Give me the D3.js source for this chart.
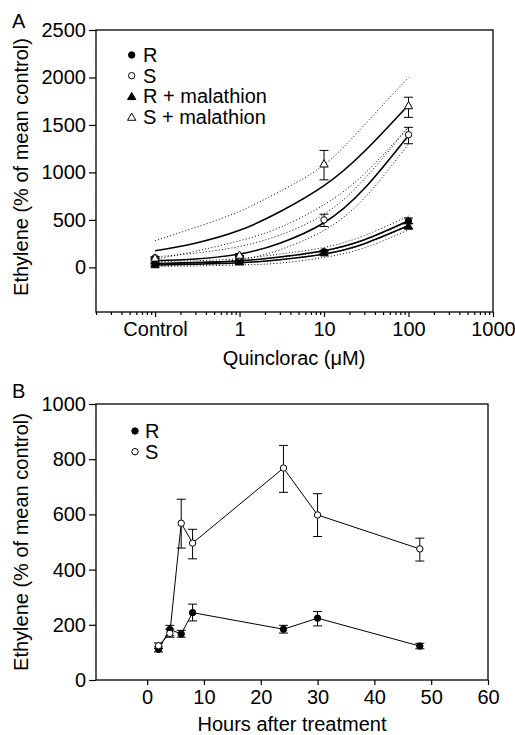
<!DOCTYPE html>
<html>
<head>
<meta charset="utf-8">
<script src="https://cdn.jsdelivr.net/npm/d3@7"></script>
<style>
  body { margin: 0; background: #fff; }
  svg { display: block; font-family: "Liberation Sans", Arial, Helvetica, sans-serif; }
</style>
</head>
<body>
<div id="chart"></div>
<script>
// ---- panel A data (quinclorac dose, "Control" plotted at 0.1) ----
const doseA = [0.1, 1, 10, 100]
const doseLabels = ['Control', '1', '10', '100', '1000']
const doseTicks = [0.1, 1, 10, 100, 1000]
const yTicksA = [0, 500, 1000, 1500, 2000, 2500]

const rMean = [45, 75, 165, 489]
const rHi = [55, 85, 180, 520]
const rLo = [35, 65, 150, 460]
const sMean = [100, 112, 500, 1397]
const sHi = [110, 125, 560, 1475]
const sLo = [90, 100, 430, 1302]
const rmMean = [30, 60, 155, 436]
const rmHi = [40, 70, 170, 460]
const rmLo = [20, 50, 140, 410]
const smMean = [100, 130, 1091, 1704]
const smHi = [110, 145, 1232, 1792]
const smLo = [90, 115, 922, 1580]

// fitted curves and their bands, read at these doses
const fitDose = [0.1, 0.3, 1, 3, 10, 30, 100]
const rFit = [40, 50, 68, 110, 175, 290, 490]
const rFitHi = [60, 70, 92, 140, 210, 335, 540]
const rFitLo = [20, 30, 45, 80, 140, 245, 440]
const rmFit = [25, 33, 48, 80, 140, 250, 440]
const rmFitHi = [40, 50, 67, 105, 170, 290, 480]
const rmFitLo = [10, 15, 25, 45, 105, 205, 395]
const sFit = [70, 88, 140, 255, 470, 830, 1390]
const sFitHi = [110, 150, 220, 340, 560, 930, 1480]
const sFitLo = [30, 45, 80, 185, 390, 730, 1300]
const smFit = [175, 255, 390, 585, 860, 1220, 1710]
const smFitHi = [280, 420, 590, 800, 1080, 1500, 2000]
const smFitLo = [84, 170, 280, 420, 660, 985, 1480]

// ---- panel B data ----
const hours = [2, 4, 6, 8, 24, 30, 48]
const rB = [111, 183, 167, 244, 184, 224, 123]
const rBHi = [120, 198, 180, 275, 198, 248, 133]
const rBLo = [102, 160, 155, 214, 170, 196, 113]
const sB = [124, 169, 568, 496, 768, 598, 475]
const sBHi = [134, 185, 655, 546, 850, 675, 514]
const sBLo = [114, 155, 478, 439, 680, 520, 431]
const xTicksB = [0, 10, 20, 30, 40, 50, 60]
const yTicksB = [0, 200, 400, 600, 800, 1000]

const svg = d3.select('#chart')
    .append('svg')
    .attr('width', 515)
    .attr('height', 735)

const tickFont = '20px'
const titleFont = '20px'

// draws a series: error bars, then markers
const drawPoints = (g, x, y, xs, mean, hi, lo, kind, cap) => {
    const pts = xs.map((d, i) => ({ x: d, m: mean[i], hi: hi[i], lo: lo[i] }))
    const bars = g.append('g').attr('stroke', '#000').attr('stroke-width', 1)
    pts.forEach(p => {
        const cx = x(p.x)
        bars.append('line').attr('x1', cx).attr('x2', cx).attr('y1', y(p.hi)).attr('y2', y(p.lo))
        bars.append('line').attr('x1', cx - cap).attr('x2', cx + cap).attr('y1', y(p.hi)).attr('y2', y(p.hi))
        bars.append('line').attr('x1', cx - cap).attr('x2', cx + cap).attr('y1', y(p.lo)).attr('y2', y(p.lo))
    })
    drawMarkers(g, pts.map(p => [x(p.x), y(p.m)]), kind)
}

const drawMarkers = (g, coords, kind) => {
    const filled = kind === 'R' || kind === 'Rm'
    if (kind === 'R' || kind === 'S') {
        g.selectAll(null)
            .data(coords)
            .enter()
            .append('circle')
            .attr('cx', d => d[0])
            .attr('cy', d => d[1])
            .attr('r', 3.2)
            .attr('fill', filled ? '#000' : '#fff')
            .attr('stroke', '#000')
            .attr('stroke-width', 1)
    } else {
        g.selectAll(null)
            .data(coords)
            .enter()
            .append('path')
            .attr('d', d3.symbol(d3.symbolTriangle, 30))
            .attr('transform', d => `translate(${d[0]},${d[1] + 0.8})`)
            .attr('fill', filled ? '#000' : '#fff')
            .attr('stroke', '#000')
            .attr('stroke-width', 1)
    }
}

const styleAxis = g => {
    g.select('.domain').remove()
    g.selectAll('line').attr('stroke', '#000').attr('stroke-width', 1.2)
    g.selectAll('text').attr('fill', '#000').attr('font-size', tickFont)
        .attr('font-family', '"Liberation Sans", Arial, Helvetica, sans-serif')
}

// ================= panel A =================
const A = { left: 96, top: 30, right: 493, bottom: 312 }

const xA = d3.scaleLog()
    .domain([0.02, 1000])
    .range([A.left, A.right])

const yA = d3.scaleLinear()
    .domain([-470, 2500])
    .range([A.bottom, A.top])

const gA = svg.append('g')

// minor ticks on the log axis
const minorA = []
for (let e = -2; e <= 2; e++) {
    for (let k = 2; k <= 9; k++) {
        const v = k * Math.pow(10, e)
        if (v >= 0.02 && v <= 1000) minorA.push(v)
    }
}
gA.append('g')
    .attr('transform', `translate(0,${A.bottom})`)
    .call(d3.axisBottom(xA).tickValues(minorA).tickSize(3).tickFormat(''))
    .call(styleAxis)

gA.append('g')
    .attr('transform', `translate(0,${A.bottom})`)
    .call(d3.axisBottom(xA).tickValues(doseTicks).tickSize(5).tickPadding(5)
        .tickFormat((d, i) => doseLabels[i]))
    .call(styleAxis)

gA.append('g')
    .attr('transform', `translate(${A.left},0)`)
    .call(d3.axisLeft(yA).tickValues(yTicksA).tickSize(7).tickPadding(3).tickFormat(d3.format('d')))
    .call(styleAxis)

gA.append('rect')
    .attr('x', A.left).attr('y', A.top)
    .attr('width', A.right - A.left).attr('height', A.bottom - A.top)
    .attr('fill', 'none').attr('stroke', '#000').attr('stroke-width', 1.3)

// fitted curves with dotted bands
const lineA = d3.line()
    .x(d => xA(d[0]))
    .y(d => yA(d[1]))
    .curve(d3.curveNatural)

const curves = [
    [rFit, rFitHi, rFitLo],
    [rmFit, rmFitHi, rmFitLo],
    [sFit, sFitHi, sFitLo],
    [smFit, smFitHi, smFitLo]
]
const curveG = gA.append('g').attr('fill', 'none').attr('stroke', '#000')
curves.forEach(c => {
    c.forEach((vals, j) => {
        curveG.append('path')
            .attr('d', lineA(fitDose.map((d, i) => [d, vals[i]])))
            .attr('stroke-width', j === 0 ? 1.6 : 1)
            .attr('stroke-dasharray', j === 0 ? null : '1,2.2')
    })
})

drawPoints(gA, xA, yA, doseA, rmMean, rmHi, rmLo, 'Rm', 4.5)
drawPoints(gA, xA, yA, doseA, rMean, rHi, rLo, 'R', 4.5)
drawPoints(gA, xA, yA, doseA, sMean, sHi, sLo, 'S', 4.5)
drawPoints(gA, xA, yA, doseA, smMean, smHi, smLo, 'Sm', 4.5)

// legend A
const legendA = [['R', 'R'], ['S', 'S'], ['Rm', 'R + malathion'], ['Sm', 'S + malathion']]
legendA.forEach((d, i) => {
    const cy = 55 + i * 20.7
    drawMarkers(gA, [[131.7, cy]], d[0])
    gA.append('text')
        .attr('x', 143)
        .attr('y', cy + 7)
        .attr('font-size', titleFont)
        .text(d[1])
})

gA.append('text').attr('x', 12).attr('y', 28).attr('font-size', titleFont).text('A')

gA.append('text')
    .attr('x', 294).attr('y', 365)
    .attr('text-anchor', 'middle')
    .attr('font-size', titleFont)
    .text('Quinclorac (\u03bcM)')

gA.append('text')
    .attr('transform', 'translate(28,167) rotate(-90)')
    .attr('text-anchor', 'middle')
    .attr('font-size', titleFont)
    .text('Ethylene (% of mean control)')

// ================= panel B =================
const B = { left: 96, top: 404, right: 488, bottom: 680 }

const xB = d3.scaleLinear()
    .domain([-9, 60])
    .range([B.left, B.right])

const yB = d3.scaleLinear()
    .domain([0, 1000])
    .range([B.bottom, B.top])

const gB = svg.append('g')

gB.append('g')
    .attr('transform', `translate(0,${B.bottom})`)
    .call(d3.axisBottom(xB).tickValues(xTicksB).tickSize(5).tickPadding(5))
    .call(styleAxis)

gB.append('g')
    .attr('transform', `translate(${B.left},0)`)
    .call(d3.axisLeft(yB).tickValues(yTicksB).tickSize(7).tickPadding(3).tickFormat(d3.format('d')))
    .call(styleAxis)

gB.append('rect')
    .attr('x', B.left).attr('y', B.top)
    .attr('width', B.right - B.left).attr('height', B.bottom - B.top)
    .attr('fill', 'none').attr('stroke', '#000').attr('stroke-width', 1.3)

const lineB = d3.line()
    .x(d => xB(d[0]))
    .y(d => yB(d[1]))

gB.append('path')
    .attr('d', lineB(hours.map((h, i) => [h, sB[i]])))
    .attr('fill', 'none').attr('stroke', '#000').attr('stroke-width', 1)
gB.append('path')
    .attr('d', lineB(hours.map((h, i) => [h, rB[i]])))
    .attr('fill', 'none').attr('stroke', '#000').attr('stroke-width', 1)

drawPoints(gB, xB, yB, hours, rB, rBHi, rBLo, 'R', 4.5)
drawPoints(gB, xB, yB, hours, sB, sBHi, sBLo, 'S', 4.5)

// legend B
const legendB = [['R', 'R'], ['S', 'S']]
legendB.forEach((d, i) => {
    const cy = 431 + i * 20.7
    drawMarkers(gB, [[135, cy]], d[0])
    gB.append('text')
        .attr('x', 145)
        .attr('y', cy + 7)
        .attr('font-size', titleFont)
        .text(d[1])
})

gB.append('text').attr('x', 12).attr('y', 398).attr('font-size', titleFont).text('B')

gB.append('text')
    .attr('x', 292).attr('y', 731)
    .attr('text-anchor', 'middle')
    .attr('font-size', titleFont)
    .text('Hours after treatment')

gB.append('text')
    .attr('transform', 'translate(28,542) rotate(-90)')
    .attr('text-anchor', 'middle')
    .attr('font-size', titleFont)
    .text('Ethylene (% of mean control)')
</script>
</body>
</html>
